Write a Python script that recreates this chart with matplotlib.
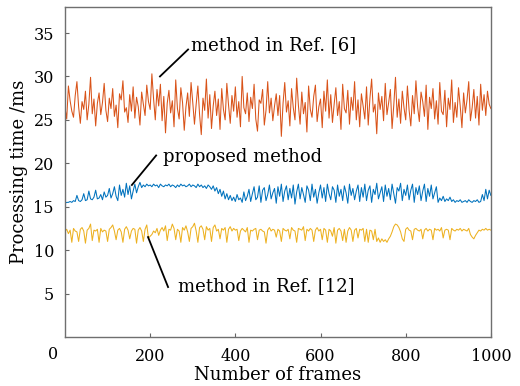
import numpy as np
import matplotlib
matplotlib.use("Agg")
import matplotlib.pyplot as plt
from matplotlib.transforms import blended_transform_factory

plt.rcParams['font.family'] = ['DejaVu Serif']

# frame index, one sample every 4 frames
frames = np.arange(0, 1001, 4)

# method in Ref. [6]
ref6 = [
    26.4, 25.1, 28.9, 27.2, 26.0, 25.3, 27.8, 29.4, 26.5, 24.6, 27.1, 26.2, 28.3, 25.0, 26.8, 29.9, 25.7, 27.4, 24.3, 26.9, 28.1, 25.6, 27.0, 29.2, 26.1,
    24.8, 27.5, 26.3, 28.6, 25.4, 26.7, 24.1, 28.0, 27.3, 29.5, 25.9, 26.4, 24.7, 27.9, 26.0, 28.8, 25.2, 27.6, 26.5, 24.4, 28.2, 26.8, 25.5, 29.0, 27.1,
    26.2, 30.3, 27.4, 25.0, 28.5, 26.6, 29.1, 24.9, 27.7, 23.5, 26.9, 28.4, 25.8, 27.2, 24.2, 29.6, 26.3, 25.1, 28.7, 27.0, 23.8, 26.5, 28.1, 25.4, 29.3,
    27.0, 24.5, 26.8, 28.9, 25.6, 23.3, 27.5, 26.1, 29.7, 25.2, 27.9, 24.0, 26.6, 28.3, 25.5, 27.4, 23.9, 28.6, 26.2, 25.0, 29.2, 26.7, 24.6, 27.8, 26.0,
    28.8, 25.3, 27.1, 24.2, 30.0, 26.4, 25.7, 28.1, 24.8, 27.6, 26.3, 29.1, 25.1, 23.7, 27.3, 26.9, 28.5, 24.4, 26.1, 29.4, 25.8, 27.5, 24.9, 26.6, 28.0,
    25.5, 27.8, 23.1, 26.9, 29.3, 25.9, 27.2, 24.3, 28.6, 26.4, 25.0, 29.8, 26.7, 24.5, 28.2, 25.7, 27.0, 23.6, 28.9, 26.2, 25.3, 27.7, 29.0, 24.8, 26.5,
    27.4, 24.1, 28.3, 26.0, 29.6, 25.2, 27.9, 24.7, 26.8, 28.7, 25.5, 27.1, 23.9, 29.1, 26.3, 25.8, 28.4, 24.5, 27.6, 26.1, 29.4, 25.0, 27.3, 24.2, 28.0,
    26.6, 25.1, 28.8, 24.4, 27.5, 29.7, 25.9, 26.8, 23.4, 28.1, 26.2, 27.7, 24.9, 29.2, 25.6, 27.0, 28.5, 24.0, 26.7, 29.9, 25.3, 27.4, 24.6, 28.3, 26.4,
    25.0, 28.9, 26.1, 24.3, 27.8, 25.7, 29.5, 26.5, 24.8, 28.2, 27.1, 25.4, 29.0, 23.9, 27.6, 26.3, 28.6, 25.1, 27.2, 24.5, 29.3, 26.0, 25.6, 28.4, 24.2,
    27.5, 26.2, 29.6, 24.7, 27.0, 25.3, 28.7, 26.6, 24.1, 28.1, 25.8, 27.3, 29.4, 24.9, 26.4, 28.5, 25.2, 27.7, 24.4, 29.1, 26.1, 27.9, 25.5, 28.3, 26.8,
    26.3,
]

# proposed method
proposed = [
    15.4, 15.5, 15.5, 15.6, 15.5, 15.7, 15.6, 16.3, 15.7, 15.6, 15.8, 16.5, 15.7, 15.8, 16.8, 15.9, 15.8, 16.1, 16.9, 15.9, 16.0, 16.4, 15.8, 16.7, 16.1,
    16.3, 17.1, 16.0, 16.5, 17.3, 16.2, 15.7, 17.5, 16.3, 17.0, 16.1, 17.7, 16.4, 17.4, 15.9, 16.8, 17.6, 16.6, 17.3, 17.8, 17.2, 17.5, 17.3, 17.6, 17.4,
    17.5, 17.3, 17.6, 17.4, 17.5, 17.2, 17.6, 17.4, 17.3, 17.5, 17.4, 17.6, 17.3, 17.5, 17.4, 17.2, 17.5, 17.3, 17.6, 17.4, 17.5, 17.3, 17.4, 17.6, 17.3,
    17.5, 17.4, 17.2, 17.6, 17.3, 17.5, 17.2, 17.4, 17.1, 17.5, 17.3, 17.0, 17.4, 16.8, 17.2, 16.5, 17.0, 16.2, 16.8, 15.9, 16.5, 15.8, 16.3, 15.7, 16.1,
    15.6, 16.4, 15.8, 16.0, 15.5, 16.7, 15.7, 16.2, 17.0, 15.6, 16.5, 17.3, 15.8, 16.1, 17.4, 15.5, 16.9, 17.2, 15.7, 16.4, 17.5, 15.9, 16.6, 17.1, 15.4,
    17.3, 16.2, 17.6, 15.6, 16.8, 17.4, 15.8, 17.1, 16.0, 17.5, 15.3, 16.7, 17.6, 15.9, 17.2, 16.4, 15.5, 17.4, 16.9, 15.7, 17.6, 16.1, 17.0, 15.4, 16.6,
    17.5, 16.0, 17.2, 15.6, 17.6, 16.5, 15.8, 17.3, 16.9, 15.5, 17.5, 16.2, 17.0, 15.7, 17.4, 16.6, 15.4, 17.6, 16.3, 17.1, 15.8, 16.8, 17.5, 15.6, 17.2,
    16.1, 17.6, 15.7, 16.9, 17.4, 15.5, 17.0, 16.4, 17.7, 15.9, 16.6, 17.3, 15.6, 17.5, 16.2, 17.1, 15.8, 17.6, 16.5, 15.4, 17.2, 16.8, 17.7, 15.7, 17.0,
    16.3, 17.5, 15.8, 16.9, 17.6, 15.5, 17.2, 16.4, 17.4, 15.7, 16.8, 17.6, 15.6, 17.1, 16.2, 17.5, 15.9, 16.6, 17.3, 15.5, 16.0, 15.7, 16.2, 15.6, 15.9,
    15.7, 16.1, 15.6, 15.8, 15.5, 15.7, 15.6, 15.8, 15.5, 15.6, 15.7, 15.5, 15.8, 15.6, 15.5, 15.7, 15.6, 15.8, 15.5, 15.6, 16.4, 15.7, 17.0, 15.9, 16.9,
    16.3,
]

# method in Ref. [12]
ref12 = [
    12.2, 12.4, 11.9, 12.3, 10.9, 12.5, 12.2, 12.1, 11.0, 12.4, 12.6, 12.2, 10.8, 12.3, 12.5, 13.0, 11.1, 12.3, 12.2, 12.4, 10.9, 12.5, 12.1, 12.3, 12.2,
    11.0, 12.4, 12.6, 12.9, 12.2, 11.2, 12.3, 12.5, 12.1, 10.9, 12.4, 12.7, 12.3, 11.3, 12.2, 12.5, 12.4, 10.8, 12.3, 12.6, 12.2, 11.0, 12.4, 12.9, 11.4,
    11.6, 11.8, 12.2, 12.0, 12.5, 11.7, 12.3, 12.6, 12.2, 12.8, 11.1, 12.4, 12.3, 13.0, 12.5, 11.2, 12.4, 12.2, 10.9, 12.6, 12.3, 12.8, 12.1, 11.0, 12.5,
    12.7, 13.1, 12.2, 10.9, 12.6, 12.8, 12.4, 11.2, 12.7, 12.3, 12.5, 11.0, 12.6, 12.9, 12.2, 12.4, 11.3, 12.5, 12.3, 12.6, 10.9, 12.4, 12.7, 12.2, 12.5,
    12.3, 12.4, 11.1, 12.2, 12.5, 12.3, 12.1, 12.6, 10.9, 12.3, 12.2, 12.4, 12.5, 11.2, 12.3, 12.4, 12.2, 12.1, 10.8, 12.3, 12.6, 12.2, 12.4, 12.3, 11.5,
    12.4, 12.2, 11.0, 12.5, 12.3, 12.2, 12.4, 11.3, 12.6, 12.3, 12.2, 10.9, 12.5, 12.4, 12.3, 12.7, 11.1, 12.4, 12.2, 12.5, 12.3, 11.0, 12.3, 12.6, 12.2,
    12.4, 11.2, 12.5, 12.3, 10.9, 12.4, 12.2, 11.6, 12.6, 10.8, 12.3, 12.5, 12.2, 11.1, 12.4, 10.9, 12.2, 12.6, 12.3, 11.0, 12.3, 12.5, 11.4, 12.4, 12.3,
    12.5, 11.0, 12.4, 10.9, 12.3, 12.2, 11.2, 12.4, 11.0, 11.4, 10.9, 11.3, 11.0, 11.2, 10.9, 11.3, 11.6, 12.1, 12.7, 13.0, 12.9, 12.6, 12.1, 11.3, 11.0,
    12.4, 12.6, 12.3, 12.2, 11.2, 12.4, 12.5, 12.3, 12.2, 12.4, 11.3, 12.3, 12.5, 12.2, 12.4, 12.3, 11.2, 12.5, 12.3, 12.4, 12.2, 12.6, 11.4, 12.3, 12.4,
    12.3, 11.2, 12.5, 12.3, 12.2, 12.4, 12.3, 12.5, 12.2, 12.4, 12.3, 12.2, 12.5, 11.8, 11.5, 11.3, 11.7, 12.0, 12.3, 12.2, 12.4, 12.3, 12.5, 12.3, 12.4,
    12.3,
]

x_ticks = [200, 400, 600, 800, 1000]
y_ticks = [5, 10, 15, 20, 25, 30, 35]

fig = plt.figure(figsize=(5.2, 3.86), dpi=100)
ax = fig.add_axes([0.125, 0.127, 0.819, 0.855])

ax.plot(frames, ref6, color='#D95319', lw=0.75)
ax.plot(frames, proposed, color='#0072BD', lw=0.75)
ax.plot(frames, ref12, color='#EDB120', lw=0.75)

ax.set_xlim(0, 1000)
ax.set_ylim(0, 38)
ax.set_xticks(x_ticks)
ax.set_yticks(y_ticks)
ax.tick_params(direction='in', length=3, labelsize=11.5, color='#666666', pad=8)
for s in ax.spines.values():
    s.set_color('#6f6f6f')
    s.set_linewidth(1.0)

# lone "0" at the corner
tr = blended_transform_factory(ax.transAxes, ax.transAxes)
ax.text(-0.028, -0.052, '0', transform=tr, fontsize=11.5, ha='center', va='center')

ax.set_xlabel('Number of frames', fontsize=13, labelpad=1)
ax.set_ylabel('Processing time /ms', fontsize=13, labelpad=4)

# annotations
ax.plot([223, 289], [30.0, 33.1], color='black', lw=1.3)
ax.text(296, 33.6, 'method in Ref. [6]', fontsize=13, va='center')
ax.plot([157, 214], [17.5, 20.9], color='black', lw=1.3)
ax.text(230, 20.7, 'proposed method', fontsize=13, va='center')
ax.plot([195, 242], [11.5, 5.75], color='black', lw=1.3)
ax.text(265, 5.9, 'method in Ref. [12]', fontsize=13, va='center')

fig.savefig('out.png', dpi=100)
